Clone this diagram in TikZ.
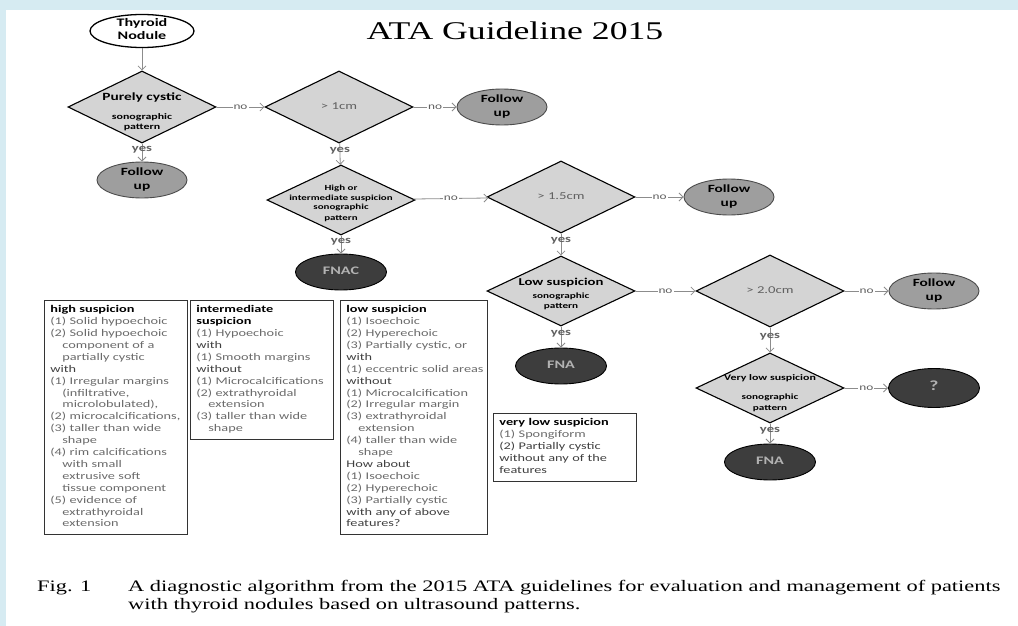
\documentclass[tikz,border=0pt]{standalone}
\usepackage{fontspec}
\setmainfont{Carlito}[FakeStretch=1.4]
\newfontfamily\capfont{Liberation Serif}[FakeStretch=1.4]
\usetikzlibrary{shapes.geometric,arrows.meta}

\definecolor{pageblue}{RGB}{214,235,242}
\definecolor{diafill}{gray}{0.83}
\definecolor{follfill}{gray}{0.62}
\definecolor{darkfill}{gray}{0.24}
\definecolor{itemgray}{gray}{0.42}
\definecolor{arrowgray}{gray}{0.55}
\definecolor{labgray}{gray}{0.38}

\newcommand{\fsz}[2]{\fontsize{#1}{#2}\selectfont}
% text that does not widen the shape round it
\newcommand{\dlab}[2][-2.5pt]{\makebox[0pt]{\smash{\raisebox{#1}{\begin{tabular}{@{}c@{}}#2\end{tabular}}}}}
\newcommand{\boxlines}[1]{\begin{tabular}{@{}l@{}}#1\end{tabular}}
\newcommand{\hd}[1]{{\color{black}\bfseries #1}}
\newcommand{\cn}[1]{{\color{black!75}#1}}
\newcommand{\ii}{\hspace*{12pt}}

\begin{document}
\begin{tikzpicture}[x=1pt, y=-1pt,
    decision/.style={diamond, draw=black, line width=1.1pt, fill=diafill,
                     inner sep=0pt, minimum width=148pt, minimum height=72pt,
                     font=\fsz{8.5}{10.5}},
    startnode/.style={ellipse, draw=black, line width=1.3pt, fill=white, inner sep=0pt,
                      minimum width=104pt, minimum height=33pt, font=\fsz{11.5}{13}\bfseries},
    followup/.style={ellipse, draw=black!70, line width=0.9pt, fill=follfill, inner sep=0pt,
                     minimum width=90pt, minimum height=36pt, font=\fsz{11}{13.5}\bfseries},
    biopsy/.style={ellipse, draw=black, line width=0.9pt, fill=darkfill, inner sep=0pt,
                   minimum width=91pt, minimum height=36pt, text=gray!60,
                   font=\fsz{11.5}{13}\bfseries},
    flow/.style={draw=arrowgray, line width=0.8pt, -{Straight Barb[length=4pt,width=8pt]}},
    nolab/.style={fill=white, inner sep=1pt, text=labgray, font=\fsz{9.5}{11}},
    yeslab/.style={pos=0.35, inner sep=0pt, text=labgray, font=\fsz{10.5}{12}\bfseries},
    infobox/.style={draw=black!80, line width=0.8pt, anchor=north west, align=left,
                    inner xsep=6pt, inner ysep=4pt, text=itemgray, font=\fsz{10.2}{11.9}}
  ]
  % Page
  \fill[pageblue] (0,0) rectangle (1018,626);
  \fill[white] (6,10) rectangle (1018,626);
  \useasboundingbox (0,0) rectangle (1018,626);

  \node[font=\capfont\fsz{25.5}{30}] (title) at (515,31) {ATA Guideline 2015};

  % Flow chart
  \node[startnode] (nodule) at (142,31) {\dlab{Thyroid\\Nodule}};
  \node[decision] (cystic) at (142,107)
    {\dlab[-8pt]{{\fsz{11}{13}\bfseries Purely cystic}\\[8pt]
      {\bfseries sonographic}\\ {\bfseries pattern}}};
  \node[followup] (fu1) at (142,180) {\dlab{Follow\\up}};

  \node[decision] (size1) at (339,107)
    {\dlab{\color{labgray}\fsz{10.5}{12}> 1cm}};
  \node[followup] (fu2) at (502,107) {\dlab{Follow\\up}};

  \node[decision, minimum height=70pt, font=\fsz{7.8}{10}] (susp) at (341,200)
    {\dlab[-5pt]{{\bfseries High or}\\ {\bfseries intermediate suspicion}\\
      {\bfseries sonographic}\\ {\bfseries pattern}}};
  \node[biopsy] (fnac) at (341,272) {\dlab{FNAC}};

  \node[decision] (size15) at (561,197)
    {\dlab{\color{labgray}\fsz{10.5}{12}> 1.5cm}};
  \node[followup] (fu3) at (729,197) {\dlab{Follow\\up}};

  \node[decision, minimum height=70pt] (low) at (561,291)
    {\dlab[-6pt]{{\fsz{10.5}{12}\bfseries Low suspicion}\\[2pt]
      {\fsz{8}{9.5}\bfseries sonographic}\\ {\fsz{8}{9.5}\bfseries pattern}}};
  \node[biopsy] (fna1) at (561,366) {\dlab{FNA}};

  \node[decision] (size2) at (770,291)
    {\dlab{\color{labgray}\fsz{10.5}{12}> 2.0cm}};
  \node[followup] (fu4) at (934,291) {\dlab{Follow\\up}};

  \node[decision, minimum height=70pt] (vlow) at (770,388)
    {\dlab[-7pt]{{\bfseries Very low suspicion}\\[9pt]
      {\fsz{8}{9.5}\bfseries sonographic}\\ {\fsz{8}{9.5}\bfseries pattern}}};
  \node[biopsy, minimum height=39pt] (unknown) at (934,388)
    {\dlab{\fsz{14}{16}?}};
  \node[biopsy] (fna2) at (770,462) {\dlab{FNA}};

  % Connectors
  \draw[flow] (nodule) -- (cystic);
  \draw[flow] (cystic) -- node[yeslab] {yes} (fu1);
  \draw[flow] (cystic) -- node[nolab] {no} (size1);
  \draw[flow] (size1) -- node[nolab] {no} (fu2);
  \draw[flow] (size1) -- node[yeslab] {yes} (susp);
  \draw[flow] (susp) -- node[yeslab] {yes} (fnac);
  \draw[flow] (susp) -- node[nolab] {no} (size15);
  \draw[flow] (size15) -- node[nolab] {no} (fu3);
  \draw[flow] (size15) -- node[yeslab] {yes} (low);
  \draw[flow] (low) -- node[yeslab] {yes} (fna1);
  \draw[flow] (low) -- node[nolab] {no} (size2);
  \draw[flow] (size2) -- node[nolab] {no} (fu4);
  \draw[flow] (size2) -- node[yeslab] {yes} (vlow);
  \draw[flow] (vlow) -- node[nolab] {no} (unknown);
  \draw[flow] (vlow) -- node[yeslab] {yes} (fna2);

  % Pattern boxes
  \node[infobox, text width=131pt] (highbox) at (44,300) {\boxlines{%
    \hd{high suspicion}\\
    (1) Solid hypoechoic\\
    (2) Solid hypoechoic\\
    \ii component of a\\
    \ii partially cystic\\
    \cn{with}\\
    (1) Irregular margins\\
    \ii (infiltrative,\\
    \ii microlobulated),\\
    (2) microcalcifications,\\
    (3) taller than wide\\
    \ii shape\\
    (4) rim calcifications\\
    \ii with small\\
    \ii extrusive soft\\
    \ii tissue component\\
    (5) evidence of\\
    \ii extrathyroidal\\
    \ii extension}};
  \node[infobox, text width=131pt] (midbox) at (190,300) {\boxlines{%
    \hd{intermediate}\\
    \hd{suspicion}\\
    (1) Hypoechoic\\
    \cn{with}\\
    (1) Smooth margins\\
    \cn{without}\\
    (1) Microcalcifications\\
    (2) extrathyroidal\\
    \ii extension\\
    (3) taller than wide\\
    \ii shape}};
  \node[infobox, text width=135pt] (lowbox) at (340,300) {\boxlines{%
    \hd{low suspicion}\\
    (1) Isoechoic\\
    (2) Hyperechoic\\
    (3) Partially cystic, or\\
    \cn{with}\\
    (1) eccentric solid areas\\
    \cn{without}\\
    (1) Microcalcification\\
    (2) Irregular margin\\
    (3) extrathyroidal\\
    \ii extension\\
    (4) taller than wide\\
    \ii shape\\
    \cn{How about}\\
    (1) Isoechoic\\
    (2) Hyperechoic\\
    (3) Partially cystic\\
    \cn{with any of above}\\
    \cn{features?}}};
  \node[infobox, text width=131pt] (vlowbox) at (493,413) {\boxlines{%
    \hd{very low suspicion}\\
    (1) Spongiform\\
    \cn{(2) Partially cystic}\\
    \cn{without any of the}\\
    \cn{features}}};

  % Caption
  \node[font=\capfont\fsz{16}{18}, anchor=west, inner sep=0pt] (fig) at (37,588) {Fig. 1};
  \node[font=\capfont\fsz{16}{18}, anchor=west, align=left, inner sep=0pt] (caption) at (128,597)
    {A diagnostic algorithm from the 2015 ATA guidelines for evaluation and management of patients\\
     with thyroid nodules based on ultrasound patterns.};
\end{tikzpicture}
\end{document}
